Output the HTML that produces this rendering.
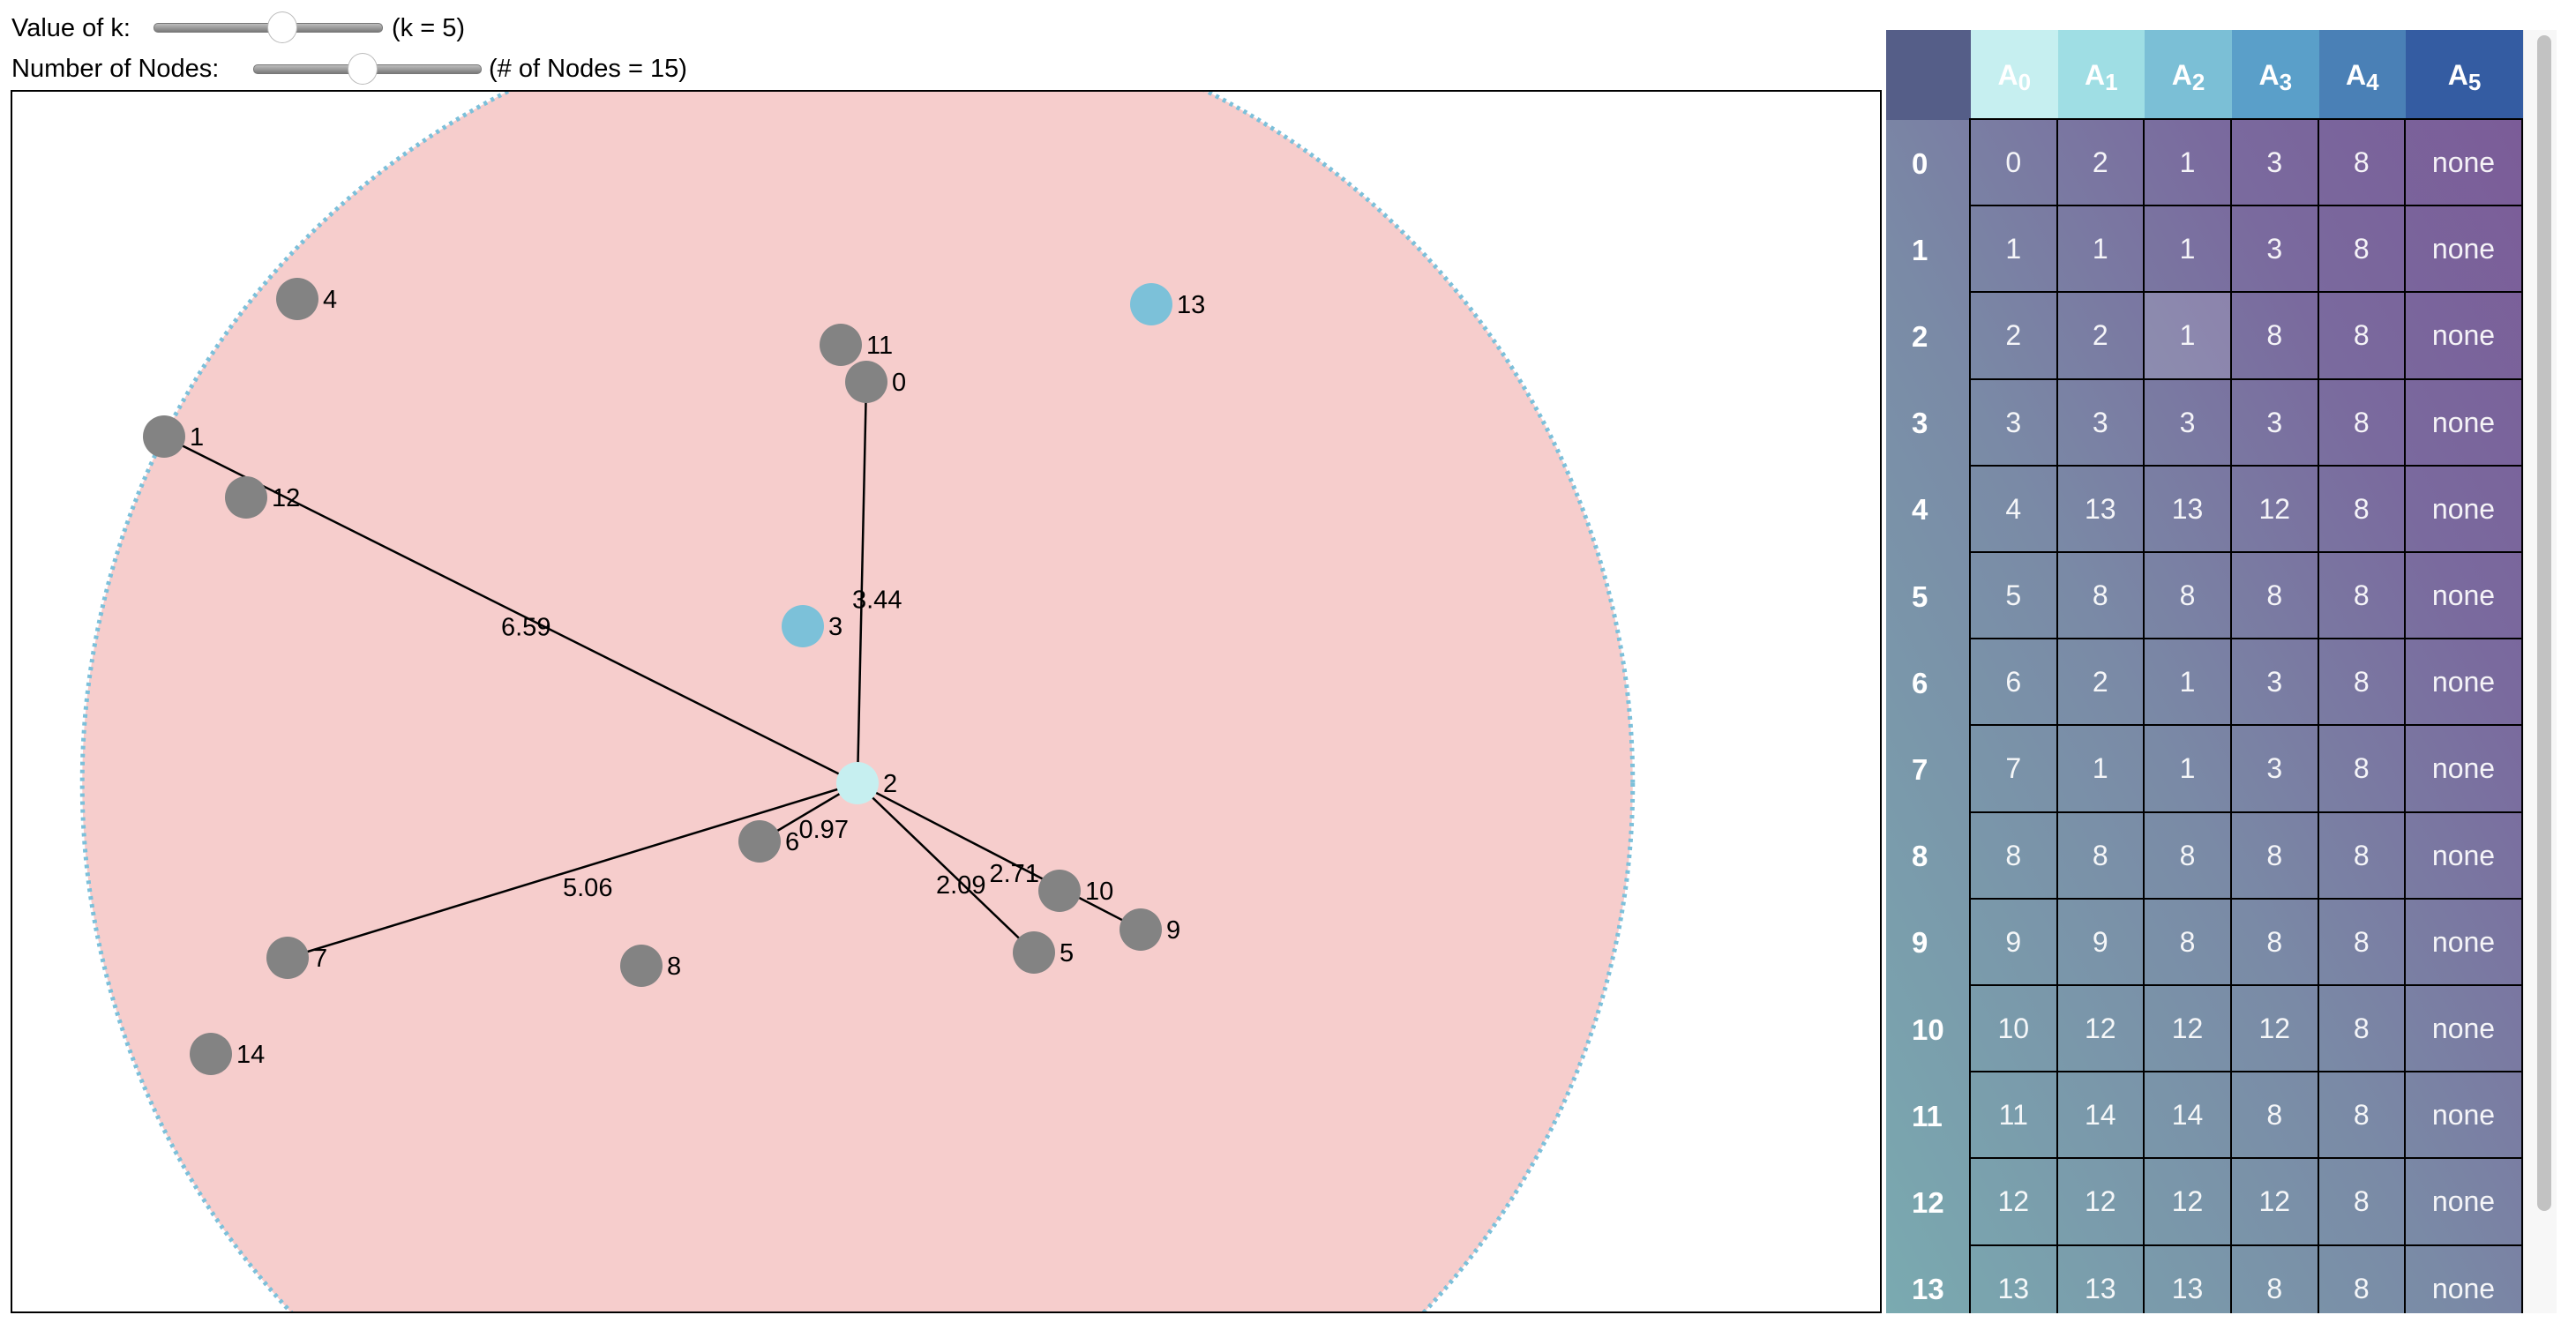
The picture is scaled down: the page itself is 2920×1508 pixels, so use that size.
<!DOCTYPE html>
<html><head><meta charset="utf-8">
<style>
html,body{margin:0;padding:0;background:#fff;width:2920px;height:1508px;overflow:hidden;font-family:"Liberation Sans",Arial,sans-serif;}
#root{position:relative;width:2920px;height:1508px;overflow:hidden;}
.lbl{position:absolute;font-size:29px;color:#000;white-space:nowrap;line-height:34px;}
.track{position:absolute;height:9px;border-radius:5px;background:linear-gradient(#bdbdbd,#7a7a7a);border:1px solid #777;}
.thumb{position:absolute;width:34px;height:36px;border-radius:50%;background:#fff;border:1px solid #bbb;box-sizing:border-box;}
#tbl{position:absolute;left:2138px;top:34px;width:722px;height:1455px;overflow:hidden;}
.cell{position:absolute;box-sizing:border-box;color:rgba(255,255,255,0.92);display:flex;align-items:center;justify-content:center;font-size:32px;line-height:1;}
.hd{font-weight:bold;font-size:32px;color:#fff;}
.hd sub{font-size:26px;position:relative;top:8px;vertical-align:baseline;}
.rh{justify-content:flex-start;padding-left:29px;font-weight:bold;font-size:33px;color:#fff;}
.dc{border-right:2px solid #000;border-bottom:2px solid #000;}
svg{display:block;}
</style></head><body>
<div id="root">
<div class="lbl" style="left:13px;top:15px">Value of k:</div>
<div class="track" style="left:174px;top:26px;width:258px"></div>
<div class="thumb" style="left:303px;top:13px"></div>
<div class="lbl" style="left:444px;top:15px">(k = 5)</div>
<div class="lbl" style="left:13px;top:61px">Number of Nodes:</div>
<div class="track" style="left:287px;top:73px;width:257px"></div>
<div class="thumb" style="left:394px;top:60px"></div>
<div class="lbl" style="left:554px;top:61px">(# of Nodes = 15)</div>

<svg id="graph" style="position:absolute;left:0;top:0" width="2140" height="1500">
<defs><clipPath id="clip"><rect x="14" y="104" width="2117" height="1383"/></clipPath></defs>
<g id="plot" clip-path="url(#clip)"></g>
<rect x="13" y="103" width="2119" height="1385" fill="none" stroke="#000" stroke-width="2"/>
</svg>

<div id="tbl">
<div style="position:absolute;left:0;top:102px;width:722px;height:1353px;background:linear-gradient(to top right,#7aaab0 0%,#7a8aa6 45%,#7a6a9e 75%,#7b5c98 100%)"></div>
</div>
<div style="position:absolute;left:2860px;top:34px;width:38px;height:1455px;background:#f7f7f7;border-left:1px solid #e6e6e6;box-sizing:border-box"></div>
<div style="position:absolute;left:2876px;top:40px;width:16px;height:1333px;background:#c2c2c2;border-radius:8px"></div>
</div>

<script>
const nodeX=[48.45,8.65,47.95,44.85,16.2,57.95,42.4,15.65,35.7,64.0,59.4,47.0,13.3,64.6,11.3];
const nodeY=[16.5,19.6,39.25,30.35,11.8,48.85,42.55,49.15,49.6,47.55,45.35,14.4,23.05,12.1,54.6];
const nodeType=["n","n","q","c","n","n","n","n","n","n","n","n","n","c","n"];
const queryNode=2;
const edgeTo=[0,1,6,7,5,9];
const edgeWeight=["3.44","6.59","0.97","5.06","2.09","2.71"];
const colHeaders=["0","1","2","3","4","5"];
const rowIds=["0","1","2","3","4","5","6","7","8","9","10","11","12","13"];
const tableVals=[
["0","2","1","3","8","none"],["1","1","1","3","8","none"],["2","2","1","8","8","none"],["3","3","3","3","8","none"],
["4","13","13","12","8","none"],["5","8","8","8","8","none"],["6","2","1","3","8","none"],["7","1","1","3","8","none"],
["8","8","8","8","8","none"],["9","9","8","8","8","none"],["10","12","12","12","8","none"],["11","14","14","8","8","none"],
["12","12","12","12","8","none"],["13","13","13","8","8","none"]];
const highlight=[2,2];

const xs=d=>13+d*20, ys=d=>103+d*20;
const NS="http://www.w3.org/2000/svg";
const plot=document.getElementById('plot');
function mk(tag,attrs){const e=document.createElementNS(NS,tag);for(const k in attrs)e.setAttribute(k,attrs[k]);return e;}
const qx=xs(nodeX[queryNode]),qy=ys(nodeY[queryNode]);
let R=0;edgeTo.forEach(i=>{R=Math.max(R,Math.hypot(xs(nodeX[i])-qx,ys(nodeY[i])-qy));});
const circ=mk('circle',{cx:qx,cy:qy,r:R,fill:'#f6cdcc',stroke:'#7cc0da','stroke-width':5,'stroke-dasharray':'4 5'});


plot.appendChild(circ);
edgeTo.forEach((i,j)=>{
 const x2=xs(nodeX[i]),y2=ys(nodeY[i]);
 const l=mk('line',{x1:qx,y1:qy,x2:x2,y2:y2,stroke:'#000','stroke-width':2.5});
 
 
 plot.appendChild(l);
});
const colors={n:'#838383',c:'#7cc1d9',q:'#c6eff0'};
nodeX.forEach((v,i)=>{
 const c=mk('circle',{cx:xs(v),cy:ys(nodeY[i]),r:24,fill:colors[nodeType[i]]});
 
 
 plot.appendChild(c);
});
nodeX.forEach((v,i)=>{
 const t=mk('text',{x:xs(v)+29,y:ys(nodeY[i])+10,'font-size':29,'font-family':'Liberation Sans, sans-serif',fill:'#000'});
 t.textContent=String(i);
 
 
 plot.appendChild(t);
});
edgeTo.forEach((i,j)=>{
 const mx=(qx+xs(nodeX[i]))/2,my=(qy+ys(nodeY[i]))/2;
 const t=mk('text',{x:mx-11,y:my+29,'font-size':29,'font-family':'Liberation Sans, sans-serif',fill:'#000'});
 t.textContent=edgeWeight[j];
 
 
 plot.appendChild(t);
});

const tbl=document.getElementById('tbl');
const colL=[96,194.5,293,392,490.5,589,722];
const hdrColors=['#c6eff0','#9fdee4','#7bbfd6','#5a9fc9','#4a80b6','#345ca2'];
const rowH=98.2,top0=102;
function add(cls,l,t,w,h,html,bg){const d=document.createElement('div');d.className='cell '+cls;d.style.left=l+'px';d.style.top=t+'px';d.style.width=w+'px';d.style.height=h+'px';if(bg)d.style.background=bg;d.innerHTML=html;tbl.appendChild(d);return d;}
const corner=add('',0,0,96,102,'','#555e88');


colHeaders.forEach((h,j)=>{
 const d=add('hd',colL[j],0,colL[j+1]-colL[j],102,'A<sub>'+h+'</sub>',hdrColors[j]);
 
 
});
const line=document.createElement('div');line.style.cssText='position:absolute;left:94px;top:100px;width:628px;height:2px;background:#000';tbl.appendChild(line);
const vline=document.createElement('div');vline.style.cssText='position:absolute;left:94px;top:100px;width:2px;height:1355px;background:#000';tbl.appendChild(vline);
rowIds.forEach((r,i)=>{
 const t=top0+i*rowH;
 const rh=add('rh',0,t,94,rowH,r);
 
 
 tableVals[i].forEach((v,j)=>{
  const bg=(highlight[0]===i&&highlight[1]===j)?'rgba(255,255,255,0.14)':null;
  const d=add('dc',colL[j],t,colL[j+1]-colL[j],rowH,v,bg);
  
  
 });
});
</script>
</body></html>
